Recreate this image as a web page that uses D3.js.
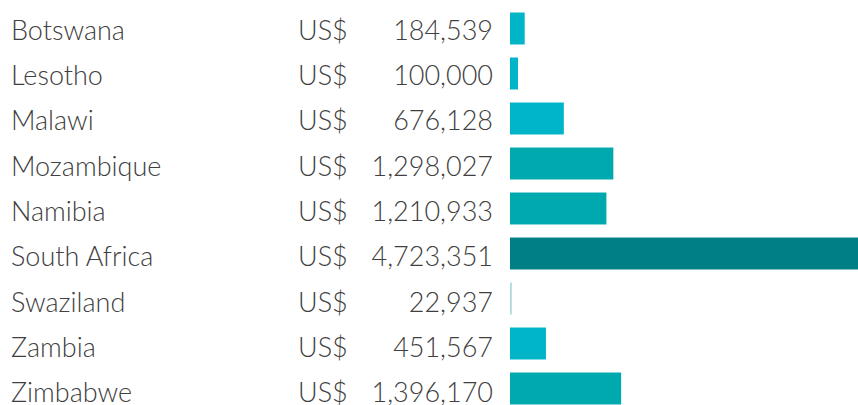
<!DOCTYPE html>
<html>
<head>
<meta charset="utf-8">
<script src="https://cdn.jsdelivr.net/npm/d3@7/dist/d3.min.js"></script>
<style>
  html, body { margin: 0; padding: 0; background: #fff; }
  svg { display: block; }
  text { font-family: Lato, "Open Sans", sans-serif; font-weight: 300; fill: #404040; }
</style>
</head>
<body>
<svg id="chart" width="858" height="405"></svg>
<script>
// Donor funding per country (US$)
const countries = ["Botswana", "Lesotho", "Malawi", "Mozambique", "Namibia",
                   "South Africa", "Swaziland", "Zambia", "Zimbabwe"];
const amounts = [184539, 100000, 676128, 1298027, 1210933, 4723351, 22937, 451567, 1396170];
const currency = "US$";

// Colour bands by amount
const colorBreaks = [50000, 1000000, 3000000];
const colorSteps = ["#b0dbe0", "#00b5c8", "#00a9ae", "#007f87"];

const rows = countries.map((c, i) => ({ country: c, amount: amounts[i] }));

const svg = d3.select("#chart");
const fmt = d3.format(",");

const y = d3.scaleBand()
  .domain(countries)
  .range([6, 411])
  .paddingInner(0.29)
  .paddingOuter(0.145);

const barX0 = 510;
const x = d3.scaleLinear()
  .domain([0, 4723351])
  .range([barX0, barX0 + 376]);

const color = d3.scaleThreshold().domain(colorBreaks).range(colorSteps);

const row = svg.selectAll("g.row")
  .data(rows)
  .join("g")
  .attr("class", "row");

row.append("rect")
  .attr("x", x(0))
  .attr("y", d => y(d.country))
  .attr("width", d => Math.max(1.3, x(d.amount) - x(0)))
  .attr("height", y.bandwidth())
  .attr("fill", d => color(d.amount));

// text rows sit a touch lower than the bar centres, drifting slightly downwards
const mid = (d, i) => y(d.country) + y.bandwidth() / 2 + 1 + i * 0.3;

row.append("text")
  .attr("x", 11)
  .attr("y", mid)
  .attr("dy", "0.38em")
  .style("font-size", "27px")
  .text(d => d.country);

row.append("text")
  .attr("x", 298)
  .attr("y", mid)
  .attr("dy", "0.38em")
  .style("font-size", "27px")
  .text(currency);

row.append("text")
  .attr("x", 493)
  .attr("y", mid)
  .attr("dy", "0.38em")
  .attr("text-anchor", "end")
  .style("font-size", "27px")
  .text(d => fmt(d.amount));
</script>
</body>
</html>
